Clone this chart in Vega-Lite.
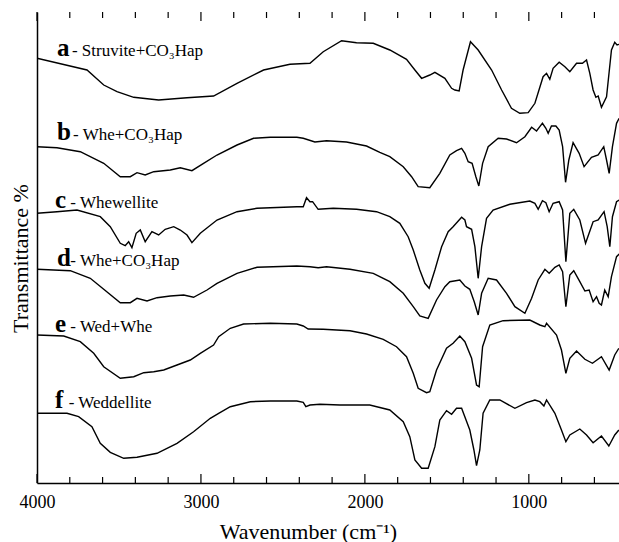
{
"$schema":"https://vega.github.io/schema/vega-lite/v6.json",
"width":582,"height":471,
"autosize":{"type":"none"},
"padding":{"left":37,"top":12,"right":0,"bottom":59},
"background":"white",
"config":{"view":{"stroke":null},"font":"Liberation Serif","text":{"font":"Liberation Serif"},"axis":{"labelFont":"Liberation Serif","titleFont":"Liberation Serif","domainColor":"black","tickColor":"black","labelColor":"black","titleColor":"black","domainWidth":1.5,"grid":false}},
"datasets":{
"curves":[
{"s":"a","w":4000,"t":424.7},{"s":"a","w":3695,"t":413},{"s":"a","w":3593,"t":398},{"s":"a","w":3512,"t":391.3},{"s":"a","w":3410,"t":385.7},{"s":"a","w":3258,"t":383},{"s":"a","w":3085,"t":385.3},{"s":"a","w":2923,"t":387},{"s":"a","w":2780,"t":399.7},{"s":"a","w":2618,"t":413},{"s":"a","w":2457,"t":418.7},{"s":"a","w":2335,"t":419.7},{"s":"a","w":2254,"t":431.3},{"s":"a","w":2142,"t":442.3},{"s":"a","w":2051,"t":440.3},{"s":"a","w":1949,"t":439.7},{"s":"a","w":1848,"t":433},{"s":"a","w":1746,"t":423.7},{"s":"a","w":1695,"t":413},{"s":"a","w":1654,"t":404.7},{"s":"a","w":1604,"t":408},{"s":"a","w":1573,"t":410.7},{"s":"a","w":1512,"t":404.7},{"s":"a","w":1471,"t":394.7},{"s":"a","w":1451,"t":393},{"s":"a","w":1425,"t":392},{"s":"a","w":1401,"t":413},{"s":"a","w":1356,"t":441.3},{"s":"a","w":1309,"t":433},{"s":"a","w":1227,"t":413},{"s":"a","w":1166,"t":393},{"s":"a","w":1106,"t":374.7},{"s":"a","w":1055,"t":369.7},{"s":"a","w":1004,"t":370.3},{"s":"a","w":963,"t":379.7},{"s":"a","w":913,"t":406.3},{"s":"a","w":892,"t":409.7},{"s":"a","w":872,"t":403.7},{"s":"a","w":852,"t":414.7},{"s":"a","w":815,"t":420.7},{"s":"a","w":780,"t":416.3},{"s":"a","w":750,"t":411.3},{"s":"a","w":709,"t":419.7},{"s":"a","w":673,"t":419.7},{"s":"a","w":648,"t":423},{"s":"a","w":628,"t":409.7},{"s":"a","w":608,"t":393},{"s":"a","w":591,"t":385.7},{"s":"a","w":577,"t":387},{"s":"a","w":557,"t":375.7},{"s":"a","w":526,"t":386.3},{"s":"a","w":496,"t":433},{"s":"a","w":476,"t":440.7},{"s":"a","w":462,"t":438},{"s":"a","w":449,"t":438.7},
{"s":"b","w":4000,"t":336.3},{"s":"b","w":3878,"t":335.3},{"s":"b","w":3736,"t":331.3},{"s":"b","w":3593,"t":319.7},{"s":"b","w":3492,"t":306.3},{"s":"b","w":3431,"t":306.3},{"s":"b","w":3390,"t":310.3},{"s":"b","w":3340,"t":308},{"s":"b","w":3288,"t":311.3},{"s":"b","w":3187,"t":313},{"s":"b","w":3126,"t":315.3},{"s":"b","w":3055,"t":312.3},{"s":"b","w":2984,"t":319.7},{"s":"b","w":2902,"t":328},{"s":"b","w":2780,"t":338},{"s":"b","w":2679,"t":344.7},{"s":"b","w":2577,"t":345.7},{"s":"b","w":2415,"t":345.7},{"s":"b","w":2376,"t":344.7},{"s":"b","w":2305,"t":341},{"s":"b","w":2234,"t":342.3},{"s":"b","w":2112,"t":341},{"s":"b","w":1990,"t":337},{"s":"b","w":1909,"t":330.7},{"s":"b","w":1848,"t":326.3},{"s":"b","w":1766,"t":316.3},{"s":"b","w":1715,"t":306.3},{"s":"b","w":1675,"t":296.3},{"s":"b","w":1604,"t":295.3},{"s":"b","w":1543,"t":309.7},{"s":"b","w":1482,"t":328},{"s":"b","w":1441,"t":332.3},{"s":"b","w":1410,"t":334.7},{"s":"b","w":1390,"t":329.7},{"s":"b","w":1370,"t":321.3},{"s":"b","w":1346,"t":319.7},{"s":"b","w":1323,"t":306.3},{"s":"b","w":1305,"t":297},{"s":"b","w":1282,"t":319.7},{"s":"b","w":1248,"t":336.3},{"s":"b","w":1187,"t":344.7},{"s":"b","w":1136,"t":344},{"s":"b","w":1075,"t":340.3},{"s":"b","w":1024,"t":346.3},{"s":"b","w":983,"t":355.7},{"s":"b","w":953,"t":352},{"s":"b","w":933,"t":356.3},{"s":"b","w":917,"t":359.7},{"s":"b","w":896,"t":354.7},{"s":"b","w":882,"t":349.7},{"s":"b","w":862,"t":357},{"s":"b","w":835,"t":357},{"s":"b","w":815,"t":353},{"s":"b","w":794,"t":336.3},{"s":"b","w":776,"t":300.7},{"s":"b","w":756,"t":323},{"s":"b","w":730,"t":340.3},{"s":"b","w":693,"t":329.7},{"s":"b","w":663,"t":316.3},{"s":"b","w":618,"t":325.7},{"s":"b","w":577,"t":328},{"s":"b","w":543,"t":336.3},{"s":"b","w":526,"t":323},{"s":"b","w":510,"t":309.7},{"s":"b","w":490,"t":336.3},{"s":"b","w":465,"t":359.7},{"s":"b","w":449,"t":364.7},
{"s":"c","w":4000,"t":269.7},{"s":"c","w":3878,"t":271.3},{"s":"c","w":3756,"t":273},{"s":"c","w":3614,"t":266.3},{"s":"c","w":3553,"t":256.3},{"s":"c","w":3492,"t":239.7},{"s":"c","w":3462,"t":237.3},{"s":"c","w":3441,"t":241.3},{"s":"c","w":3421,"t":235.3},{"s":"c","w":3395,"t":249.7},{"s":"c","w":3370,"t":253},{"s":"c","w":3340,"t":241.3},{"s":"c","w":3299,"t":251.3},{"s":"c","w":3258,"t":248},{"s":"c","w":3218,"t":253.7},{"s":"c","w":3166,"t":256.3},{"s":"c","w":3126,"t":253},{"s":"c","w":3085,"t":248},{"s":"c","w":3055,"t":240.3},{"s":"c","w":3004,"t":249.7},{"s":"c","w":2902,"t":263},{"s":"c","w":2780,"t":271.3},{"s":"c","w":2658,"t":274.7},{"s":"c","w":2415,"t":276.3},{"s":"c","w":2376,"t":276.3},{"s":"c","w":2356,"t":285.3},{"s":"c","w":2335,"t":281.3},{"s":"c","w":2319,"t":281.3},{"s":"c","w":2285,"t":273.7},{"s":"c","w":2193,"t":274.7},{"s":"c","w":2051,"t":273.7},{"s":"c","w":1929,"t":271.3},{"s":"c","w":1848,"t":266.3},{"s":"c","w":1787,"t":259.7},{"s":"c","w":1736,"t":246.3},{"s":"c","w":1705,"t":233},{"s":"c","w":1665,"t":213},{"s":"c","w":1634,"t":199.7},{"s":"c","w":1608,"t":194.7},{"s":"c","w":1573,"t":213},{"s":"c","w":1532,"t":236.3},{"s":"c","w":1492,"t":251.3},{"s":"c","w":1462,"t":256.3},{"s":"c","w":1410,"t":265.7},{"s":"c","w":1390,"t":263},{"s":"c","w":1380,"t":256.3},{"s":"c","w":1349,"t":253.7},{"s":"c","w":1329,"t":236.3},{"s":"c","w":1309,"t":204.7},{"s":"c","w":1288,"t":236.3},{"s":"c","w":1258,"t":264.7},{"s":"c","w":1218,"t":273},{"s":"c","w":1116,"t":278.7},{"s":"c","w":994,"t":282},{"s":"c","w":963,"t":279.7},{"s":"c","w":943,"t":273.7},{"s":"c","w":917,"t":282.3},{"s":"c","w":896,"t":280.3},{"s":"c","w":876,"t":271.3},{"s":"c","w":852,"t":279.7},{"s":"c","w":815,"t":281.3},{"s":"c","w":794,"t":273},{"s":"c","w":774,"t":221.3},{"s":"c","w":750,"t":269.7},{"s":"c","w":726,"t":273.7},{"s":"c","w":689,"t":263},{"s":"c","w":654,"t":239.7},{"s":"c","w":608,"t":261.3},{"s":"c","w":577,"t":263},{"s":"c","w":541,"t":271.3},{"s":"c","w":522,"t":256.3},{"s":"c","w":506,"t":236.3},{"s":"c","w":490,"t":266.3},{"s":"c","w":465,"t":281.3},{"s":"c","w":449,"t":283},
{"s":"d","w":4000,"t":213.7},{"s":"d","w":3797,"t":212.3},{"s":"d","w":3675,"t":204.7},{"s":"d","w":3593,"t":193.7},{"s":"d","w":3492,"t":180.3},{"s":"d","w":3431,"t":180.3},{"s":"d","w":3390,"t":184.7},{"s":"d","w":3329,"t":182},{"s":"d","w":3268,"t":185.3},{"s":"d","w":3187,"t":187},{"s":"d","w":3105,"t":188},{"s":"d","w":3045,"t":185.7},{"s":"d","w":2963,"t":193},{"s":"d","w":2902,"t":199.7},{"s":"d","w":2780,"t":209.7},{"s":"d","w":2658,"t":215.7},{"s":"d","w":2415,"t":217},{"s":"d","w":2335,"t":216.3},{"s":"d","w":2285,"t":215.3},{"s":"d","w":2234,"t":216.3},{"s":"d","w":2091,"t":213.7},{"s":"d","w":1949,"t":209.7},{"s":"d","w":1848,"t":201.3},{"s":"d","w":1766,"t":189.7},{"s":"d","w":1705,"t":176.3},{"s":"d","w":1665,"t":167},{"s":"d","w":1614,"t":164.7},{"s":"d","w":1563,"t":183},{"s":"d","w":1512,"t":196.3},{"s":"d","w":1482,"t":201.3},{"s":"d","w":1421,"t":203},{"s":"d","w":1390,"t":197},{"s":"d","w":1360,"t":193.7},{"s":"d","w":1333,"t":181.3},{"s":"d","w":1309,"t":168},{"s":"d","w":1288,"t":189.7},{"s":"d","w":1248,"t":204.7},{"s":"d","w":1197,"t":203},{"s":"d","w":1136,"t":189.7},{"s":"d","w":1085,"t":176.3},{"s":"d","w":1024,"t":169.7},{"s":"d","w":983,"t":184.7},{"s":"d","w":943,"t":203},{"s":"d","w":902,"t":213.7},{"s":"d","w":876,"t":209.7},{"s":"d","w":841,"t":215.7},{"s":"d","w":815,"t":218},{"s":"d","w":794,"t":211.3},{"s":"d","w":774,"t":176.3},{"s":"d","w":750,"t":208},{"s":"d","w":726,"t":212.3},{"s":"d","w":689,"t":201.3},{"s":"d","w":658,"t":192},{"s":"d","w":632,"t":193},{"s":"d","w":608,"t":181.3},{"s":"d","w":587,"t":186.3},{"s":"d","w":571,"t":179.7},{"s":"d","w":557,"t":178},{"s":"d","w":537,"t":193},{"s":"d","w":516,"t":186.3},{"s":"d","w":496,"t":206.3},{"s":"d","w":465,"t":226.3},{"s":"d","w":449,"t":229},
{"s":"e","w":4000,"t":148},{"s":"e","w":3837,"t":147},{"s":"e","w":3736,"t":141.3},{"s":"e","w":3654,"t":129.7},{"s":"e","w":3593,"t":116.3},{"s":"e","w":3492,"t":104.7},{"s":"e","w":3410,"t":106.3},{"s":"e","w":3349,"t":110.3},{"s":"e","w":3288,"t":111.3},{"s":"e","w":3227,"t":113},{"s":"e","w":3146,"t":118},{"s":"e","w":3065,"t":123},{"s":"e","w":3004,"t":129.7},{"s":"e","w":2923,"t":138},{"s":"e","w":2892,"t":146.3},{"s":"e","w":2821,"t":154.7},{"s":"e","w":2740,"t":159},{"s":"e","w":2577,"t":159.7},{"s":"e","w":2415,"t":159},{"s":"e","w":2376,"t":157},{"s":"e","w":2346,"t":154},{"s":"e","w":2254,"t":153.7},{"s":"e","w":2091,"t":152.3},{"s":"e","w":1990,"t":149},{"s":"e","w":1888,"t":143.7},{"s":"e","w":1807,"t":136.3},{"s":"e","w":1746,"t":126.3},{"s":"e","w":1705,"t":109.7},{"s":"e","w":1675,"t":94.7},{"s":"e","w":1624,"t":90.3},{"s":"e","w":1604,"t":91.3},{"s":"e","w":1563,"t":113},{"s":"e","w":1502,"t":134.7},{"s":"e","w":1462,"t":139.7},{"s":"e","w":1421,"t":147},{"s":"e","w":1390,"t":141.3},{"s":"e","w":1349,"t":124.7},{"s":"e","w":1319,"t":98},{"s":"e","w":1303,"t":96.3},{"s":"e","w":1282,"t":136.3},{"s":"e","w":1238,"t":158},{"s":"e","w":1157,"t":162.3},{"s":"e","w":994,"t":163},{"s":"e","w":933,"t":158},{"s":"e","w":902,"t":156.3},{"s":"e","w":892,"t":159.7},{"s":"e","w":831,"t":148},{"s":"e","w":801,"t":133},{"s":"e","w":774,"t":109.7},{"s":"e","w":750,"t":124.7},{"s":"e","w":709,"t":132},{"s":"e","w":658,"t":123.7},{"s":"e","w":612,"t":119.7},{"s":"e","w":557,"t":126.3},{"s":"e","w":510,"t":113},{"s":"e","w":476,"t":128},{"s":"e","w":451,"t":134.7},
{"s":"f","w":4000,"t":69.7},{"s":"f","w":3817,"t":69.7},{"s":"f","w":3746,"t":66.3},{"s":"f","w":3665,"t":56.3},{"s":"f","w":3614,"t":39.7},{"s":"f","w":3553,"t":30.7},{"s":"f","w":3471,"t":24.7},{"s":"f","w":3390,"t":25.7},{"s":"f","w":3268,"t":29.7},{"s":"f","w":3146,"t":39.7},{"s":"f","w":3045,"t":51.3},{"s":"f","w":2943,"t":64.7},{"s":"f","w":2892,"t":69.7},{"s":"f","w":2821,"t":76.3},{"s":"f","w":2699,"t":81.3},{"s":"f","w":2577,"t":82},{"s":"f","w":2415,"t":82},{"s":"f","w":2376,"t":80.7},{"s":"f","w":2360,"t":76.3},{"s":"f","w":2335,"t":78},{"s":"f","w":2274,"t":78.7},{"s":"f","w":2152,"t":78},{"s":"f","w":1970,"t":78},{"s":"f","w":1848,"t":73},{"s":"f","w":1766,"t":61.3},{"s":"f","w":1726,"t":46.3},{"s":"f","w":1695,"t":23},{"s":"f","w":1654,"t":14.7},{"s":"f","w":1614,"t":14.7},{"s":"f","w":1573,"t":36.3},{"s":"f","w":1543,"t":63},{"s":"f","w":1502,"t":72.3},{"s":"f","w":1471,"t":68.7},{"s":"f","w":1441,"t":74.7},{"s":"f","w":1410,"t":74.7},{"s":"f","w":1360,"t":53},{"s":"f","w":1335,"t":33},{"s":"f","w":1319,"t":17.3},{"s":"f","w":1299,"t":33},{"s":"f","w":1279,"t":69.7},{"s":"f","w":1238,"t":83},{"s":"f","w":1177,"t":83},{"s":"f","w":1085,"t":74.7},{"s":"f","w":1014,"t":80.3},{"s":"f","w":963,"t":83},{"s":"f","w":933,"t":81.3},{"s":"f","w":908,"t":77},{"s":"f","w":892,"t":83},{"s":"f","w":841,"t":69.7},{"s":"f","w":801,"t":53},{"s":"f","w":774,"t":41.3},{"s":"f","w":750,"t":48},{"s":"f","w":689,"t":54},{"s":"f","w":648,"t":48},{"s":"f","w":608,"t":40.3},{"s":"f","w":557,"t":47},{"s":"f","w":512,"t":37},{"s":"f","w":476,"t":48},{"s":"f","w":451,"t":53}
],
"labels":[
{"letter":"a","rest":"- Struvite+CO₃Hap","bold":false,"w":3878,"w2":3787,"t":427.3},
{"letter":"b","rest":"- Whe+CO₃Hap","bold":false,"w":3878,"w2":3780,"t":343},
{"letter":"c","rest":"- Whewellite","bold":true,"w":3890,"w2":3797,"t":275},
{"letter":"d","rest":"- Whe+CO₃Hap","bold":false,"w":3878,"w2":3797,"t":217},
{"letter":"e","rest":"- Wed+Whe","bold":false,"w":3890,"w2":3797,"t":151.3},
{"letter":"f","rest":"- Weddellite","bold":true,"w":3890,"w2":3807,"t":75}
],
"ticks":[
{"w":4000,"major":true},{"w":3800,"major":false},{"w":3600,"major":false},{"w":3400,"major":false},{"w":3200,"major":false},{"w":3000,"major":true},{"w":2800,"major":false},{"w":2600,"major":false},{"w":2400,"major":false},{"w":2200,"major":false},{"w":2000,"major":true},{"w":1800,"major":false},{"w":1600,"major":false},{"w":1400,"major":false},{"w":1200,"major":false},{"w":1000,"major":true},{"w":800,"major":false},{"w":600,"major":false}
]
},
"layer":[
{"data":{"name":"curves"},
 "mark":{"type":"line","color":"black","strokeWidth":1.4,"clip":true},
 "encoding":{
  "x":{"field":"w","type":"quantitative","scale":{"domain":[450,4000],"reverse":true,"nice":false,"zero":false},
   "axis":{"orient":"bottom","values":[4000,3000,2000,1000],"format":"d","ticks":false,"tickSize":0,
    "labelPadding":10,"labelFontSize":18,"labelFlush":false,"labelOverlap":false,
    "title":"Wavenumber (cm⁻¹)","titleFontSize":22,"titleFontWeight":"normal","titleX":271,"titleY":55,"titleBaseline":"alphabetic","titleAnchor":null}},
  "y":{"field":"t","type":"quantitative","scale":{"domain":[0,471],"nice":false,"zero":false},
   "axis":{"orient":"left","ticks":false,"labels":false,"title":"Transmittance %","titleFontSize":22,"titleFontWeight":"normal","titleX":-17,"titleY":246,"titleAngle":270,"titleAlign":"center","titleBaseline":"middle"}},
  "detail":{"field":"s","type":"nominal"}
 }},
{"data":{"name":"labels"},
 "mark":{"type":"text","align":"left","baseline":"alphabetic","fontSize":25,"fontWeight":"bold","color":"black"},
 "encoding":{
  "x":{"field":"w","type":"quantitative"},
  "y":{"field":"t","type":"quantitative"},
  "text":{"field":"letter"}
 }},
{"data":{"name":"labels"},
 "mark":{"type":"text","align":"left","baseline":"alphabetic","fontSize":17,"color":"black"},
 "encoding":{
  "x":{"field":"w2","type":"quantitative"},
  "y":{"field":"t","type":"quantitative"},
  "text":{"field":"rest"},
  "fontWeight":{"condition":{"test":"datum.bold","value":"bold"},"value":"normal"}
 }},
{"mark":{"type":"rule","color":"black","strokeWidth":1.5},
 "encoding":{"y":{"datum":471,"type":"quantitative"}}},
{"data":{"name":"ticks"},"transform":[{"filter":"datum.major"}],
 "mark":{"type":"rule","color":"black","strokeWidth":1.2},
 "encoding":{"x":{"field":"w","type":"quantitative"},"y":{"datum":0,"type":"quantitative"},"y2":{"datum":9}}},
{"data":{"name":"ticks"},"transform":[{"filter":"!datum.major"}],
 "mark":{"type":"rule","color":"black","strokeWidth":1.2},
 "encoding":{"x":{"field":"w","type":"quantitative"},"y":{"datum":0,"type":"quantitative"},"y2":{"datum":6}}},
{"data":{"name":"ticks"},"transform":[{"filter":"datum.major"}],
 "mark":{"type":"rule","color":"black","strokeWidth":1.2},
 "encoding":{"x":{"field":"w","type":"quantitative"},"y":{"datum":471,"type":"quantitative"},"y2":{"datum":462}}},
{"data":{"name":"ticks"},"transform":[{"filter":"!datum.major"}],
 "mark":{"type":"rule","color":"black","strokeWidth":1.2},
 "encoding":{"x":{"field":"w","type":"quantitative"},"y":{"datum":471,"type":"quantitative"},"y2":{"datum":465}}}
]
}
